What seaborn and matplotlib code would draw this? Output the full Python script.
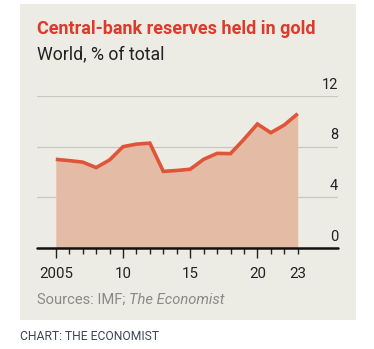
import matplotlib
matplotlib.use("Agg")
import matplotlib.pyplot as plt
from matplotlib.patches import Rectangle
import seaborn as sns
import pandas as pd

# World central-bank reserves held in gold, % of total
years = list(range(2005, 2024))
gold_share = [7.0, 6.9, 6.78, 6.35, 6.95, 8.0, 8.2, 8.28, 6.05, 6.12, 6.22,
              7.0, 7.47, 7.45, 8.58, 9.79, 9.1, 9.71, 10.6]

y_ticks = [0, 4, 8, 12]
x_major = [2005, 2010, 2015, 2020, 2023]
x_labels = ["2005", "10", "15", "20", "23"]

title = "Central-bank reserves held in gold"
subtitle = "World, % of total"
source = "Sources: IMF; "
source_italic = "The Economist"
credit = "CHART: THE ECONOMIST"

df = pd.DataFrame({"year": years, "share": gold_share})

sns.set_theme(style="white")
plt.rcParams["font.family"] = ["Roboto", "DejaVu Sans"]

BG = "#ECEBE4"
LINE = "#E0553A"
FILL = "#E4BBA4"
RED = "#DB3A2C"

W, H = 374, 349
fig = plt.figure(figsize=(W / 100, H / 100), dpi=100)
fig.patch.set_facecolor("white")

# grey panel behind the chart
fig.patches.append(Rectangle((20 / W, 1 - 320 / H), 336 / W, 316 / H,
                             transform=fig.transFigure, facecolor=BG,
                             edgecolor="none", zorder=-10))

ax = fig.add_axes([37 / W, 1 - 248 / H, 301 / W, 152 / H])
ax.set_facecolor("none")
ax.set_zorder(1)

ax.fill_between(df["year"], 0, df["share"], color=FILL, linewidth=0, zorder=2)
sns.lineplot(data=df, x="year", y="share", ax=ax, color=LINE, linewidth=2.6,
             zorder=3, solid_joinstyle="miter", solid_capstyle="butt")

ax.set_xlim(2003.6, 2026.0)
ax.set_ylim(0, 12)

# horizontal gridlines with labels sitting above them on the right
for v in y_ticks[1:]:
    ax.axhline(v, color="#C9C8C0", linewidth=0.9, zorder=1)
for v in y_ticks:
    ax.text(1.0, v + 0.35, str(v), transform=ax.get_yaxis_transform(),
            ha="right", va="bottom", fontsize=10.5, color="#222222")
ax.axhline(0, color="#111111", linewidth=1.8, zorder=4, clip_on=False)

ax.set_yticks([])
ax.set_xticks(x_major)
ax.set_xticklabels(x_labels, fontsize=10.8, color="#222222")
ax.set_xticks(years, minor=True)
ax.tick_params(axis="x", which="major", direction="out", length=7.5,
               width=1.0, color="#222222", pad=6, bottom=True)
ax.tick_params(axis="x", which="minor", direction="out", length=4.5,
               width=1.0, color="#222222", bottom=True)
ax.xaxis.get_major_ticks()[-1].tick1line.set_markersize(4.5)
ax.set_xlabel("")
ax.set_ylabel("")
for s in ax.spines.values():
    s.set_visible(False)

fig.text(37 / W, 1 - 29 / H, title, ha="left", va="center", fontsize=13.0,
         fontweight="bold", color=RED)
fig.text(37 / W, 1 - 54 / H, subtitle, ha="left", va="center", fontsize=12.8,
         color="#222222")
t = fig.text(37 / W, 1 - 300 / H, source, ha="left", va="center",
             fontsize=10.6, color="#8A8A86")
fig.canvas.draw()
bb = t.get_window_extent()
fig.text(bb.x1 / W, 1 - 300 / H, source_italic, ha="left", va="center",
         fontsize=10.6, color="#8A8A86", style="italic")
fig.text(20.5 / W, 1 - 337 / H, credit, ha="left", va="center", fontsize=8.7,
         color="#3C4656")

fig.savefig("out.png", dpi=100, facecolor="white")
